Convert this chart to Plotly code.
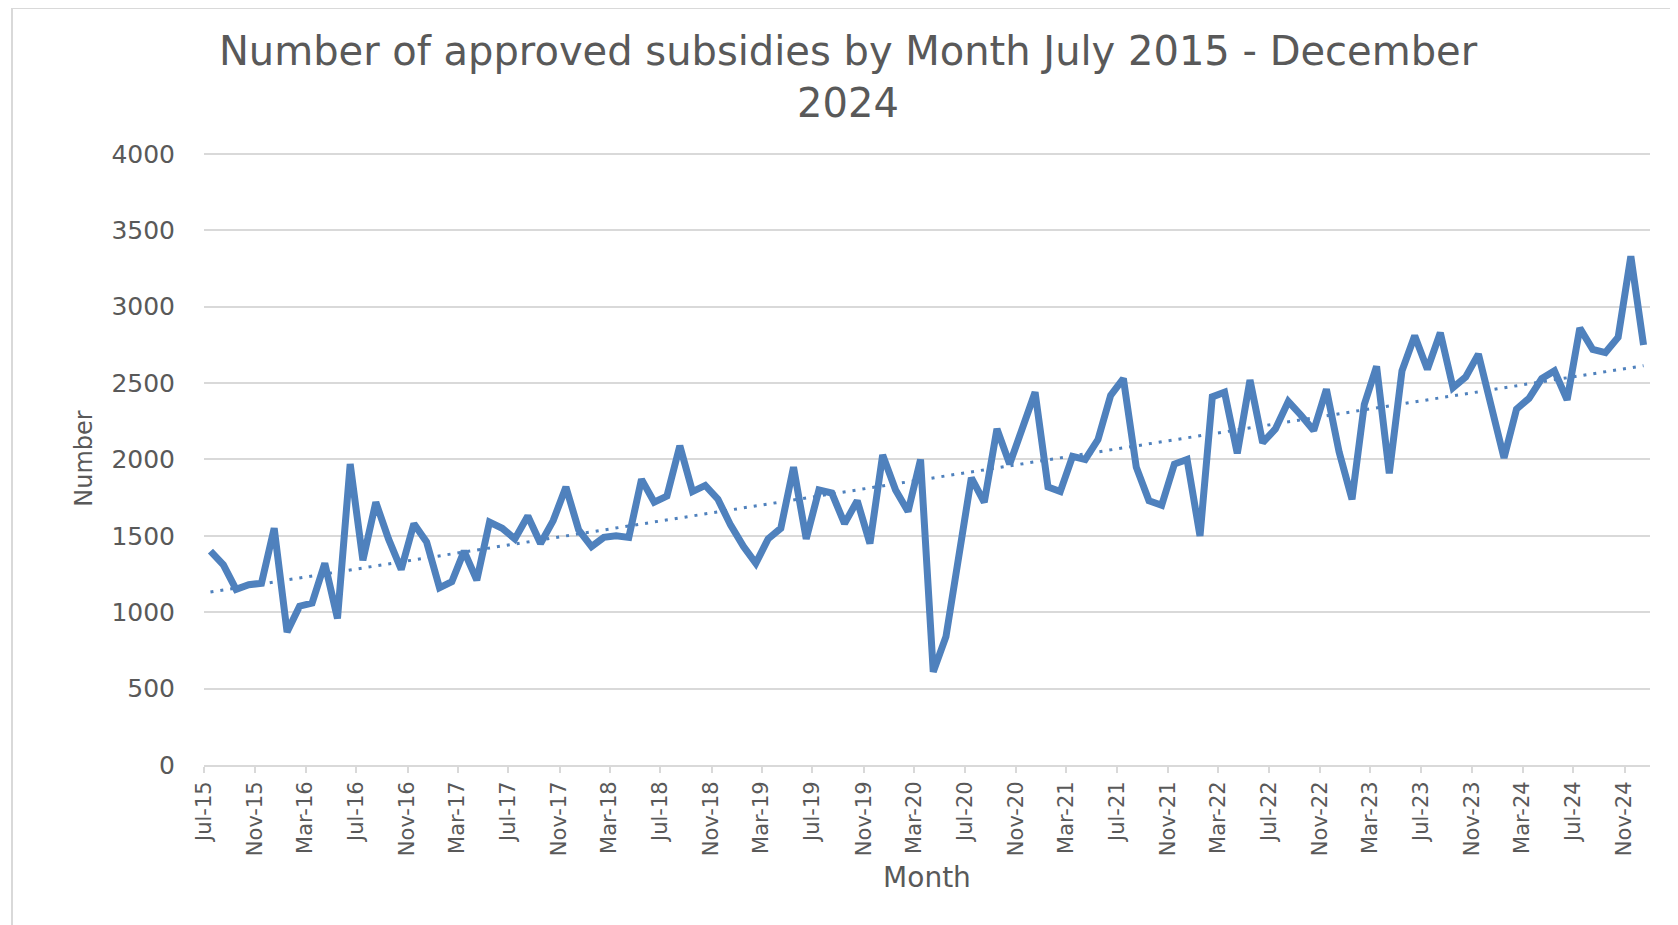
import numpy as np
import pandas as pd
import plotly.graph_objects as go

# Monthly approved subsidies, Jul 2015 - Dec 2024
values_2015 = [1400, 1310, 1150, 1180, 1190, 1550]
values_2016 = [870, 1040, 1060, 1320, 960, 1970, 1340, 1720, 1480, 1280, 1580, 1460]
values_2017 = [1160, 1200, 1400, 1210, 1590, 1550, 1480, 1630, 1450, 1600, 1820, 1540]
values_2018 = [1430, 1490, 1500, 1490, 1870, 1720, 1760, 2090, 1790, 1830, 1740, 1570]
values_2019 = [1430, 1320, 1480, 1550, 1950, 1480, 1800, 1780, 1580, 1730, 1450, 2030]
values_2020 = [1800, 1660, 2000, 610, 840, 1340, 1880, 1720, 2200, 1970, 2210, 2440]
values_2021 = [1820, 1790, 2020, 2000, 2130, 2420, 2530, 1950, 1730, 1700, 1970, 2000]
values_2022 = [1500, 2410, 2440, 2040, 2520, 2110, 2200, 2380, 2290, 2190, 2460, 2050]
values_2023 = [1740, 2360, 2610, 1910, 2580, 2810, 2590, 2830, 2470, 2540, 2690, 2340]
values_2024 = [2010, 2330, 2400, 2530, 2580, 2390, 2860, 2720, 2700, 2800, 3330, 2750]

values = (values_2015 + values_2016 + values_2017 + values_2018 + values_2019
          + values_2020 + values_2021 + values_2022 + values_2023 + values_2024)
months = pd.date_range("2015-07-01", periods=len(values), freq="MS")

y_ticks = [0, 500, 1000, 1500, 2000, 2500, 3000, 3500, 4000]

title_text = "Number of approved subsidies by Month July 2015 - December<br>2024"

# Linear trendline (least squares on date serial, like Excel)
days = (months - months[0]).days.values.astype(float)
slope, intercept = np.polyfit(days, np.array(values, dtype=float), 1)
trend = slope * days + intercept

LINE = "#4F81BD"
TXT = "#595959"
GRID = "#D9D9D9"
FONT = "DejaVu Sans"

W, H = 1670, 917
L, R, T, B = 196, 28, 144, 160
PW, PH = W - L - R, H - T - B

fig = go.Figure()
fig.add_trace(go.Scatter(x=months, y=trend, mode="lines",
                         xperiod="M1", xperiodalignment="middle",
                         line=dict(color=LINE, width=3, dash="3px,7px"),
                         hoverinfo="skip", showlegend=False))
fig.add_trace(go.Scatter(x=months, y=values, mode="lines",
                         xperiod="M1", xperiodalignment="middle",
                         line=dict(color=LINE, width=7),
                         name="Number", showlegend=False))

fig.update_layout(
    width=W, height=H,
    margin=dict(l=L, r=R, t=T, b=B, autoexpand=False),
    paper_bgcolor="white", plot_bgcolor="white",
    font=dict(family=FONT, color=TXT),
    title=dict(text=title_text, x=0.503, xanchor="center",
               y=1 - 57 / H, yanchor="top",
               font=dict(size=40, color=TXT, family=FONT)),
    xaxis=dict(
        type="date",
        range=["2015-07-01", "2025-01-01"],
        tickmode="linear", tick0="2015-07-01", dtick="M4",
        tickformat="%b-%y", tickangle=-90,
        tickfont=dict(size=21, color=TXT),
        showgrid=False, showline=True, linecolor=GRID, linewidth=2,
        ticks="outside", ticklen=6, tickcolor=GRID, tickwidth=2,
        zeroline=False, automargin=False,
        title=dict(text="Month", font=dict(size=28, color=TXT), standoff=12),
    ),
    yaxis=dict(
        range=[0, 4013], tickvals=y_ticks,
        tickfont=dict(size=25, color=TXT),
        showgrid=True, gridcolor=GRID, gridwidth=2,
        showline=False, zeroline=False, ticks="",
        ticklabelstandoff=28, automargin=False,
        title=dict(text="Number", font=dict(size=24, color=TXT), standoff=11),
    ),
    shapes=[dict(type="rect", xref="paper", yref="paper",
                 x0=(4 - L) / PW, x1=1.2, y0=-0.5, y1=(T + PH - 0) / PH,
                 line=dict(color=GRID, width=2), fillcolor="rgba(0,0,0,0)",
                 layer="below")],
)

fig.write_html("out.html")
